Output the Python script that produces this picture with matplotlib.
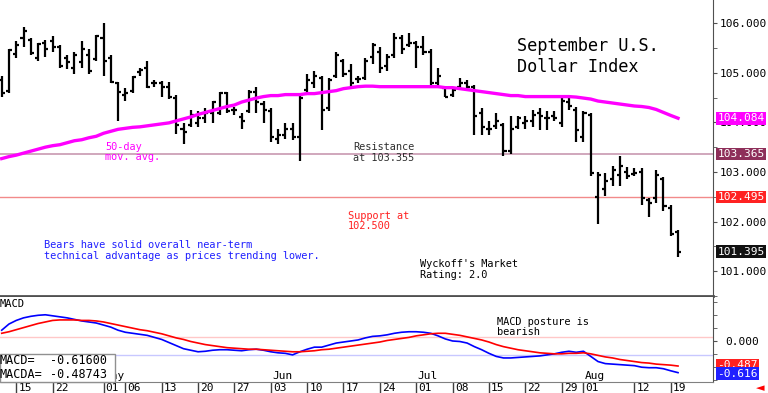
import numpy as np
import pandas as pd
import matplotlib
matplotlib.use('Agg')
import matplotlib.pyplot as plt
from matplotlib.patches import Rectangle

# daily bars, Sep U.S. Dollar Index futures
dates = pd.bdate_range('2024-04-11', '2024-08-20')

opens = [104.85, 104.64, 105.38, 105.70, 105.67, 105.29, 105.61, 105.65, 105.51, 105.29,
         105.10, 105.21, 105.36, 105.27, 105.70, 105.29, 104.79, 104.56, 104.64, 105.02,
         105.10, 104.79, 104.79, 104.71, 104.49, 103.86, 103.95, 103.99, 104.09, 104.18,
         104.18, 104.60, 104.24, 104.10, 104.22, 104.62, 104.37, 104.22, 103.67, 103.74,
         103.86, 103.70, 104.66, 104.79, 104.90, 104.28, 104.94, 105.23, 105.04, 104.87,
         104.90, 105.32, 105.42, 105.13, 105.36, 105.70, 105.55, 105.61, 105.51, 105.42,
         104.79, 104.70, 104.56, 104.71, 104.79, 104.71, 104.18, 103.86, 103.93, 103.95,
         103.42, 103.90, 103.99, 104.03, 104.18, 104.09, 104.12, 103.99, 104.41, 104.24,
         103.70, 104.14, 102.50, 102.66, 102.85, 102.94, 103.00, 102.96, 103.00, 102.43,
         102.47, 102.85, 102.28, 101.80]
highs = [104.94, 105.48, 105.65, 105.93, 105.70, 105.61, 105.67, 105.74, 105.55, 105.36,
         105.42, 105.65, 105.48, 105.76, 106.01, 105.36, 104.81, 104.70, 104.94, 105.10,
         105.23, 104.85, 104.83, 104.81, 104.56, 103.99, 104.24, 104.22, 104.28, 104.43,
         104.62, 104.62, 104.30, 104.18, 104.66, 104.71, 104.43, 104.28, 103.86, 103.99,
         103.99, 104.54, 104.98, 105.04, 104.94, 104.89, 105.42, 105.27, 105.17, 104.94,
         105.29, 105.61, 105.51, 105.38, 105.80, 105.76, 105.80, 105.65, 105.74, 105.48,
         105.10, 104.71, 104.70, 104.89, 104.85, 104.75, 104.28, 104.03, 104.18, 103.99,
         104.12, 104.12, 104.12, 104.24, 104.28, 104.22, 104.22, 104.52, 104.56, 104.32,
         104.22, 104.18, 103.00, 102.98, 103.13, 103.32, 103.10, 103.08, 103.08, 102.47,
         103.04, 102.89, 102.33, 101.84]
lows = [104.51, 104.60, 105.29, 105.52, 105.36, 105.23, 105.32, 105.42, 105.10, 105.08,
        104.98, 105.10, 104.98, 105.23, 104.94, 104.79, 104.03, 104.43, 104.60, 104.94,
        104.70, 104.72, 104.52, 104.47, 103.76, 103.57, 103.90, 103.90, 103.99, 103.99,
        104.14, 104.18, 104.14, 103.86, 104.18, 104.18, 103.99, 103.61, 103.57, 103.67,
        103.65, 103.23, 104.60, 104.70, 103.84, 104.22, 104.89, 104.91, 104.72, 104.79,
        104.85, 105.17, 105.00, 105.04, 105.29, 105.38, 105.52, 105.10, 105.36, 104.72,
        104.70, 104.51, 104.51, 104.66, 104.70, 103.74, 103.74, 103.74, 103.86, 103.32,
        103.36, 103.86, 103.86, 103.90, 103.84, 103.84, 104.03, 103.90, 104.24, 103.61,
        103.61, 102.91, 101.95, 102.51, 102.72, 102.72, 102.85, 102.91, 102.33, 102.09,
        102.37, 102.22, 101.71, 101.29]
closes = [104.60, 105.46, 105.55, 105.84, 105.40, 105.57, 105.48, 105.52, 105.13, 105.21,
          105.36, 105.48, 105.04, 105.74, 105.23, 104.81, 104.62, 104.60, 104.91, 105.06,
          104.72, 104.79, 104.72, 104.51, 103.95, 103.80, 104.14, 104.09, 104.18, 104.41,
          104.60, 104.22, 104.24, 104.03, 104.62, 104.41, 104.24, 103.71, 103.74, 103.86,
          103.71, 104.49, 104.85, 104.94, 104.24, 104.85, 105.36, 104.98, 104.79, 104.87,
          105.23, 105.55, 105.10, 105.32, 105.71, 105.48, 105.61, 105.52, 105.42, 104.79,
          104.94, 104.52, 104.66, 104.79, 104.72, 104.12, 103.90, 103.86, 104.03, 103.42,
          103.86, 104.09, 104.03, 104.14, 104.12, 104.09, 104.09, 104.43, 104.33, 103.84,
          104.18, 102.98, 102.94, 102.81, 103.04, 103.13, 102.91, 102.98, 102.47, 102.37,
          102.94, 102.32, 101.74, 101.395]
ma50 = [103.27, 103.31, 103.34, 103.38, 103.42, 103.46, 103.50, 103.53, 103.55, 103.59,
        103.63, 103.65, 103.69, 103.72, 103.78, 103.82, 103.86, 103.88, 103.90, 103.91,
        103.93, 103.95, 103.97, 103.99, 104.03, 104.07, 104.11, 104.16, 104.20, 104.24,
        104.28, 104.32, 104.35, 104.41, 104.45, 104.49, 104.52, 104.54, 104.54, 104.56,
        104.56, 104.56, 104.58, 104.58, 104.60, 104.62, 104.64, 104.68, 104.70, 104.72,
        104.73, 104.73, 104.72, 104.72, 104.72, 104.72, 104.72, 104.72, 104.72, 104.72,
        104.72, 104.70, 104.70, 104.68, 104.66, 104.64, 104.62, 104.60, 104.58, 104.56,
        104.54, 104.54, 104.52, 104.52, 104.52, 104.52, 104.52, 104.52, 104.52, 104.51,
        104.49, 104.47, 104.43, 104.41, 104.39, 104.37, 104.35, 104.33, 104.32, 104.30,
        104.26, 104.20, 104.14, 104.084]
macd = [0.21, 0.33, 0.40, 0.45, 0.48, 0.50, 0.51, 0.49, 0.47, 0.45,
        0.42, 0.39, 0.37, 0.35, 0.31, 0.27, 0.21, 0.17, 0.15, 0.13,
        0.11, 0.07, 0.03, -0.03, -0.09, -0.15, -0.18, -0.21, -0.20, -0.18,
        -0.17, -0.17, -0.18, -0.19, -0.17, -0.16, -0.18, -0.21, -0.23, -0.24,
        -0.27, -0.21, -0.16, -0.12, -0.12, -0.08, -0.04, -0.02, 0.00, 0.02,
        0.06, 0.09, 0.10, 0.12, 0.15, 0.17, 0.18, 0.18, 0.17, 0.15,
        0.10, 0.04, 0.00, -0.01, -0.04, -0.11, -0.17, -0.24, -0.30, -0.33,
        -0.33, -0.32, -0.31, -0.30, -0.29, -0.27, -0.25, -0.22, -0.20, -0.22,
        -0.20, -0.30, -0.40, -0.44, -0.45, -0.46, -0.47, -0.48, -0.51, -0.52,
        -0.52, -0.54, -0.58, -0.616]
macda = [0.15, 0.18, 0.22, 0.26, 0.30, 0.34, 0.37, 0.40, 0.41, 0.41,
         0.41, 0.40, 0.40, 0.39, 0.37, 0.34, 0.31, 0.28, 0.25, 0.22,
         0.20, 0.17, 0.14, 0.10, 0.06, 0.03, -0.01, -0.04, -0.07, -0.09,
         -0.11, -0.13, -0.14, -0.15, -0.16, -0.16, -0.17, -0.18, -0.19, -0.20,
         -0.21, -0.21, -0.20, -0.19, -0.17, -0.16, -0.14, -0.12, -0.10, -0.08,
         -0.06, -0.04, -0.02, 0.01, 0.03, 0.05, 0.07, 0.10, 0.12, 0.14,
         0.15, 0.15, 0.13, 0.11, 0.08, 0.05, 0.02, -0.02, -0.07, -0.11,
         -0.14, -0.17, -0.19, -0.21, -0.23, -0.24, -0.25, -0.25, -0.24, -0.24,
         -0.23, -0.25, -0.28, -0.31, -0.33, -0.36, -0.38, -0.40, -0.42, -0.43,
         -0.45, -0.46, -0.47, -0.487]

resist = 103.365
support = 102.495
price_ticks = [101, 102, 103, 104, 105, 106]

day_ticks = ['2024-04-15', '2024-04-22', '2024-05-01', '2024-05-06', '2024-05-13', '2024-05-20',
             '2024-05-27', '2024-06-03', '2024-06-10', '2024-06-17', '2024-06-24', '2024-07-01',
             '2024-07-08', '2024-07-15', '2024-07-22', '2024-07-29', '2024-08-01', '2024-08-12',
             '2024-08-19']
month_ticks = ['2024-05-01', '2024-06-03', '2024-07-01', '2024-08-01']
month_names = ['May', 'Jun', 'Jul', 'Aug']

MONO = 'DejaVu Sans Mono'
W, H = 768, 393


def rect(x0, y0, x1, y1):
    return [x0 / W, 1 - y1 / H, (x1 - x0) / W, (y1 - y0) / H]


def ftext(x, y, s, **kw):
    kw.setdefault('family', MONO)
    kw.setdefault('va', 'center')
    return fig.text(x / W, 1 - y / H, s, **kw)


fig = plt.figure(figsize=(W / 100, H / 100), dpi=100)
fig.patch.set_facecolor('white')
ax = fig.add_axes(rect(0, 0, 713, 296))
ax2 = fig.add_axes(rect(0, 297, 713, 382))

x = np.arange(len(dates))
pos = {d: i for i, d in enumerate(dates.strftime('%Y-%m-%d'))}

# price bars
ax.vlines(x, lows, highs, color='black', lw=1.6, zorder=3)
ax.hlines(opens, x - 0.42, x, color='black', lw=1.6, zorder=3)
ax.hlines(closes, x, x + 0.42, color='black', lw=1.6, zorder=3)
ax.plot(x, ma50, color='#ff00ff', lw=2.4, zorder=4)
ax.axhline(resist, color='#c490aa', lw=1.1, zorder=1)
ax.axhline(support, color='#f28a8a', lw=1.0, zorder=1)

ax.set_xlim(-0.234, 97.81)
ax.set_ylim(100.829, 106.467)
for s in ['top', 'left']:
    ax.spines[s].set_visible(False)
ax.spines['right'].set_color('#505050')
ax.spines['bottom'].set_color('#505050')
ax.spines['bottom'].set_linewidth(2)
ax.yaxis.tick_right()
ax.set_yticks(price_ticks)
ax.set_yticklabels(['%.3f' % v for v in price_ticks], family=MONO, fontsize=8)
ax.set_yticks(np.arange(100.5, 106.5, 0.5), minor=True)
ax.tick_params(axis='y', which='both', direction='out', length=3, pad=2, color='#505050')
ax.tick_params(axis='x', bottom=False, labelbottom=False)

ytr = ax.get_yaxis_transform()
for val, txt, bg in [(ma50[-1], '104.084', '#ff00ff'), (resist, '103.365', '#8e2f5a'),
                     (support, '102.495', '#ff2222'), (closes[-1], '101.395', '#111111')]:
    ax.text(1.006, val, txt, transform=ytr, color='white', family=MONO, fontsize=8,
            va='center', ha='left', clip_on=False, zorder=6,
            bbox=dict(boxstyle='square,pad=0.12', fc=bg, ec='none'))

# MACD panel
ax2.plot(x, macd, color='#0000ff', lw=1.2, zorder=3)
ax2.plot(x, macda, color='#ff0000', lw=1.2, zorder=3)
ax2.axhline(0.078, color='#ffc8c8', lw=1.0, zorder=1)
ax2.axhline(-0.272, color='#c8c8ff', lw=1.0, zorder=1)
ax2.set_xlim(-0.234, 97.81)
ax2.set_ylim(-0.798, 0.856)
for s in ['top', 'left']:
    ax2.spines[s].set_visible(False)
ax2.spines['right'].set_color('#505050')
ax2.spines['bottom'].set_color('#808080')
ax2.yaxis.tick_right()
ax2.set_yticks([0])
ax2.set_yticklabels(['0.000'], family=MONO, fontsize=8)
ax2.set_yticks(np.arange(-0.75, 0.8, 0.25), minor=True)
ax2.tick_params(axis='y', which='both', direction='out', length=3, pad=6, color='#505050')
ax2.tick_params(axis='x', bottom=False, labelbottom=False)

ytr2 = ax2.get_yaxis_transform()
ax2.text(1.006, macda[-1] + 0.02, '-0.487', transform=ytr2, color='white', family=MONO,
         fontsize=8, va='center', ha='left', clip_on=False, zorder=6,
         bbox=dict(boxstyle='square,pad=0.12', fc='#ff2020', ec='none'))
ax2.text(1.006, macd[-1] - 0.02, '-0.616', transform=ytr2, color='white', family=MONO,
         fontsize=8, va='center', ha='left', clip_on=False, zorder=7,
         bbox=dict(boxstyle='square,pad=0.12', fc='#2020ff', ec='none'))

# date axis
xtr = ax2.get_xaxis_transform()
idx = [pos[d] for d in day_ticks]
ax2.vlines(idx, -0.13, 0, transform=xtr, color='#404040', lw=1, clip_on=False)
for i, d in zip(idx, day_ticks):
    ax2.text(i + 0.3, -0.07, d[-2:], transform=xtr, family=MONO, fontsize=8,
             va='center', ha='left', clip_on=False)
for d, m in zip(month_ticks, month_names):
    ax2.text(pos[d] + 0.2, 0.075, m, transform=xtr, family=MONO, fontsize=8,
             va='center', ha='left', zorder=2)

# MACD value box
fig.patches.append(Rectangle((0, 1 - 382 / H), 115 / W, 28 / H, transform=fig.transFigure,
                             fc='white', ec='#909090', lw=1, zorder=10))
ftext(0, 361, 'MACD=', fontsize=8.5, zorder=11)
ftext(50, 361, '-0.61600', fontsize=8.5, zorder=11)
ftext(0, 374, 'MACDA=', fontsize=8.5, zorder=11)
ftext(50, 374, '-0.48743', fontsize=8.5, zorder=11)
ftext(0, 304, 'MACD', fontsize=7.5)

# annotations
ftext(517, 46, 'September U.S.', fontsize=12.2)
ftext(517, 67, 'Dollar Index', fontsize=12.2)
ftext(105, 147, '50-day', fontsize=7.4, color='#ff00ff')
ftext(105, 157, 'mov. avg.', fontsize=7.4, color='#ff00ff')
ftext(353, 147, 'Resistance', fontsize=7.4, color='#303030')
ftext(353, 158, 'at 103.355', fontsize=7.4, color='#303030')
ftext(348, 216, 'Support at', fontsize=7.4, color='#ff2020')
ftext(348, 226, '102.500', fontsize=7.4, color='#ff2020')
ftext(44, 245, 'Bears have solid overall near-term', fontsize=7.4, color='#2020ff')
ftext(44, 256, 'technical advantage as prices trending lower.', fontsize=7.4, color='#2020ff')
ftext(420, 264, "Wyckoff's Market", fontsize=7.4)
ftext(420, 275, 'Rating: 2.0', fontsize=7.4)
ftext(497, 322, 'MACD posture is', fontsize=7.4)
ftext(497, 332, 'bearish', fontsize=7.4)
ftext(760, 388, '\u25c4', family='DejaVu Sans', fontsize=8, color='#ff0000', ha='center')

fig.savefig('out.png', dpi=100)
